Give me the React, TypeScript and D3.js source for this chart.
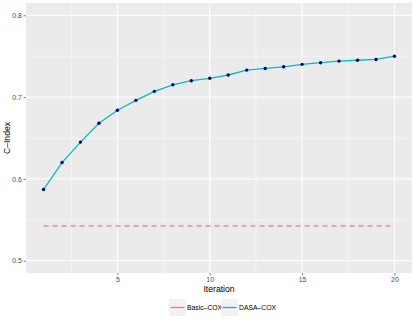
import React, { useEffect, useRef } from "react";
import * as d3 from "d3";

// values
const iterations = [1, 2, 3, 4, 5, 6, 7, 8, 9, 10, 11, 12, 13, 14, 15, 16, 17, 18, 19, 20];
const dasaCox = [0.587, 0.62, 0.645, 0.668, 0.684, 0.696, 0.707, 0.715, 0.72, 0.723, 0.727, 0.733, 0.735, 0.737, 0.740, 0.742, 0.744, 0.745, 0.746, 0.750];
const basicCox = 0.5425;
const xTicks = [5, 10, 15, 20];
const yTicks = [0.5, 0.6, 0.7, 0.8];
const seriesNames = ["Basic\u2013COX", "DASA\u2013COX"];
const seriesColors = ["#F8766D", "#00BFC4"];

const W = 415;
const H = 321;
const panel = { left: 26, right: 412, top: 3, bottom: 273 };

export default function App() {
  const ref = useRef<SVGSVGElement>(null);

  useEffect(() => {
    const svg = d3.select(ref.current);
    svg.selectAll("*").remove();

    const x = d3.scaleLinear().domain([0.05, 20.95]).range([panel.left, panel.right]);
    const y = d3.scaleLinear().domain([0.485, 0.815]).range([panel.bottom, panel.top]);

    svg.append("rect")
      .attr("x", panel.left).attr("y", panel.top)
      .attr("width", panel.right - panel.left).attr("height", panel.bottom - panel.top)
      .attr("fill", "#EBEBEB");

    // minor grid
    const minorX = [2.5, 7.5, 12.5, 17.5];
    const minorY = [0.55, 0.65, 0.75];
    svg.append("g").selectAll("line").data(minorX).enter().append("line")
      .attr("x1", (d) => x(d)).attr("x2", (d) => x(d))
      .attr("y1", panel.top).attr("y2", panel.bottom)
      .attr("stroke", "#fff").attr("stroke-width", 0.5);
    svg.append("g").selectAll("line").data(minorY).enter().append("line")
      .attr("y1", (d) => y(d)).attr("y2", (d) => y(d))
      .attr("x1", panel.left).attr("x2", panel.right)
      .attr("stroke", "#fff").attr("stroke-width", 0.5);

    // major grid
    svg.append("g").selectAll("line").data(xTicks).enter().append("line")
      .attr("x1", (d) => x(d)).attr("x2", (d) => x(d))
      .attr("y1", panel.top).attr("y2", panel.bottom)
      .attr("stroke", "#fff").attr("stroke-width", 1);
    svg.append("g").selectAll("line").data(yTicks).enter().append("line")
      .attr("y1", (d) => y(d)).attr("y2", (d) => y(d))
      .attr("x1", panel.left).attr("x2", panel.right)
      .attr("stroke", "#fff").attr("stroke-width", 1);

    // axes
    const xAxis = svg.append("g")
      .attr("transform", `translate(0,${panel.bottom})`)
      .call(d3.axisBottom(x).tickValues(xTicks).tickSize(2.5).tickPadding(1.5).tickFormat(d3.format("d")));
    const yAxis = svg.append("g")
      .attr("transform", `translate(${panel.left},0)`)
      .call(d3.axisLeft(y).tickValues(yTicks).tickSize(2.5).tickPadding(1.5).tickFormat(d3.format(".1f")));
    [xAxis, yAxis].forEach((a) => {
      a.select(".domain").remove();
      a.selectAll(".tick line").attr("stroke", "#333333").attr("stroke-width", 0.6);
      a.selectAll(".tick text")
        .attr("fill", "#4D4D4D")
        .style("font-family", "Liberation Sans, Arial, sans-serif")
        .style("font-size", "7px");
    });

    // Basic-COX dashed baseline
    svg.append("line")
      .attr("x1", x(iterations[0])).attr("x2", x(iterations[iterations.length - 1]))
      .attr("y1", y(basicCox)).attr("y2", y(basicCox))
      .attr("stroke", seriesColors[0]).attr("stroke-opacity", 0.7)
      .attr("stroke-width", 1.8).attr("stroke-dasharray", "5,4");

    // DASA-COX line
    const line = d3.line<number>()
      .x((d, i) => x(iterations[i]))
      .y((d) => y(d));
    svg.append("path")
      .datum(dasaCox)
      .attr("d", line)
      .attr("fill", "none")
      .attr("stroke", seriesColors[1])
      .attr("stroke-width", 1.3);

    svg.append("g").selectAll("circle").data(dasaCox).enter().append("circle")
      .attr("cx", (d, i) => x(iterations[i]))
      .attr("cy", (d) => y(d))
      .attr("r", 1.7)
      .attr("fill", "#00008B");

    // axis titles
    svg.append("text")
      .attr("x", (panel.left + panel.right) / 2)
      .attr("y", 291.5)
      .attr("text-anchor", "middle")
      .style("font-family", "Liberation Sans, Arial, sans-serif")
      .style("font-size", "8.6px")
      .text("Iteration");
    svg.append("text")
      .attr("transform", `translate(10,${(panel.top + panel.bottom) / 2}) rotate(-90)`)
      .attr("text-anchor", "middle")
      .style("font-family", "Liberation Sans, Arial, sans-serif")
      .style("font-size", "8.6px")
      .text("C\u2013Index");

    // legend
    const keyX = [169, 221];
    const legend = svg.append("g");
    seriesNames.forEach((name, i) => {
      const g = legend.append("g").attr("transform", `translate(${keyX[i]},299)`);
      g.append("rect").attr("width", 17).attr("height", 17).attr("fill", "#F2F2F2");
      g.append("line")
        .attr("x1", 1.5).attr("x2", 15.5).attr("y1", 8.5).attr("y2", 8.5)
        .attr("stroke", seriesColors[i]).attr("stroke-width", 1.3);
      g.append("text")
        .attr("x", 18).attr("y", 11)
        .style("font-family", "Liberation Sans, Arial, sans-serif")
        .style("font-size", "6.8px")
        .attr("fill", "#000")
        .text(name);
    });
  }, []);

  return <svg ref={ref} width={W} height={H} style={{ position: "absolute", left: 0, top: 0 }} />;
}
